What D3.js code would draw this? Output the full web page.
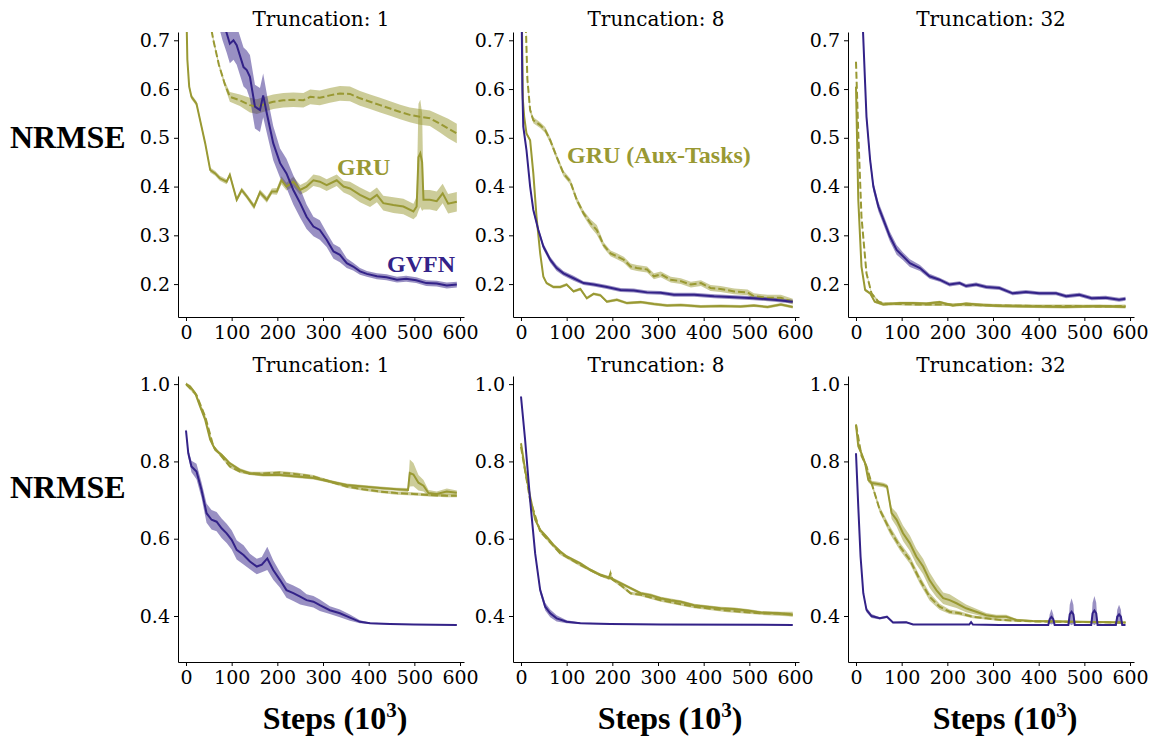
<!DOCTYPE html>
<html>
<head>
<meta charset="utf-8">
<script src="https://cdn.jsdelivr.net/npm/d3@7"></script>
<style>
  body { margin: 0; background: #fff; }
  .tick text { font-family: "DejaVu Serif", serif; font-size: 19px; fill: #000; }
  .tick line, .domain { stroke: #000; }
</style>
</head>
<body>
<div id="visualization"></div>
<script>
// each point: [step (10^3), mean NRMSE, half width of the shaded band]
const steps = [0, 100, 200, 300, 400, 500, 600];
const truncations = [1, 8, 32];
const topTicks = [0.2, 0.3, 0.4, 0.5, 0.6, 0.7];
const bottomTicks = [0.4, 0.6, 0.8, 1.0];

// ---- top row ----
const gvfnTop1 = [[60,0.80,0.03],[80,0.74,0.04],[89,0.715,0.04],[96,0.693,0.04],[104,0.70,0.04],[111,0.69,0.04],[126,0.645,0.04],[133,0.639,0.04],[140,0.625,0.045],[151,0.564,0.045],[162,0.557,0.045],[169,0.587,0.045],[177,0.55,0.04],[191,0.489,0.035],[206,0.448,0.03],[220,0.427,0.03],[235,0.393,0.03],[250,0.366,0.03],[264,0.338,0.025],[279,0.318,0.02],[293,0.311,0.02],[308,0.291,0.015],[323,0.267,0.015],[337,0.26,0.015],[352,0.243,0.01],[366,0.236,0.008],[381,0.226,0.007],[396,0.221,0.006],[418,0.216,0.006],[439,0.214,0.006],[462,0.209,0.006],[482,0.211,0.006],[504,0.208,0.006],[526,0.202,0.006],[549,0.201,0.006],[571,0.197,0.006],[593,0.199,0.006]];
const gruTop1 = [[0,0.80,0.005],[3,0.66,0.005],[7,0.605,0.005],[12,0.584,0.005],[23,0.57,0.005],[34,0.523,0.005],[42,0.489,0.005],[53,0.434,0.005],[64,0.427,0.005],[74,0.417,0.005],[89,0.41,0.005],[96,0.424,0.005],[111,0.373,0.005],[122,0.393,0.005],[133,0.38,0.005],[149,0.359,0.006],[162,0.388,0.006],[177,0.373,0.006],[188,0.39,0.006],[199,0.39,0.007],[209,0.413,0.008],[220,0.40,0.008],[235,0.41,0.01],[250,0.393,0.01],[264,0.40,0.01],[279,0.413,0.012],[293,0.41,0.012],[308,0.403,0.012],[330,0.413,0.012],[345,0.40,0.012],[359,0.396,0.014],[381,0.383,0.015],[403,0.373,0.015],[418,0.383,0.015],[432,0.366,0.015],[454,0.362,0.016],[476,0.359,0.016],[498,0.349,0.016],[505,0.359,0.02],[509,0.46,0.11],[513,0.468,0.11],[517,0.45,0.1],[520,0.373,0.02],[534,0.373,0.02],[549,0.37,0.02],[562,0.386,0.02],[574,0.365,0.02],[593,0.369,0.02]];
const auxTop1 = [[48,0.76,0.005],[60,0.70,0.005],[72,0.65,0.005],[85,0.61,0.006],[96,0.584,0.01],[118,0.577,0.012],[140,0.567,0.015],[155,0.564,0.015],[169,0.568,0.015],[191,0.574,0.015],[213,0.577,0.015],[235,0.578,0.015],[257,0.577,0.015],[272,0.584,0.015],[293,0.582,0.015],[315,0.587,0.015],[337,0.591,0.015],[359,0.59,0.015],[381,0.581,0.015],[403,0.574,0.015],[425,0.567,0.015],[447,0.56,0.015],[469,0.553,0.015],[490,0.547,0.015],[512,0.543,0.016],[534,0.54,0.016],[556,0.529,0.018],[574,0.519,0.02],[593,0.509,0.02]];

const gvfnTop8 = [[0,0.90,0.005],[3,0.60,0.005],[5,0.523,0.005],[12,0.475,0.005],[20,0.40,0.005],[27,0.352,0.005],[38,0.311,0.005],[49,0.277,0.006],[64,0.25,0.006],[78,0.233,0.006],[93,0.222,0.005],[115,0.212,0.005],[137,0.202,0.004],[159,0.199,0.004],[188,0.194,0.004],[218,0.188,0.004],[247,0.187,0.004],[276,0.183,0.004],[306,0.182,0.004],[335,0.178,0.004],[379,0.178,0.004],[423,0.175,0.004],[467,0.173,0.004],[510,0.171,0.004],[554,0.168,0.004],[595,0.164,0.004]];
const gruTop8 = [[0,0.90,0.003],[4,0.58,0.003],[7,0.543,0.003],[12,0.509,0.003],[20,0.495,0.003],[27,0.427,0.003],[34,0.338,0.003],[42,0.263,0.003],[49,0.215,0.003],[56,0.202,0.003],[71,0.194,0.003],[86,0.194,0.003],[100,0.199,0.003],[115,0.185,0.003],[130,0.19,0.003],[144,0.171,0.003],[159,0.18,0.003],[174,0.177,0.003],[188,0.164,0.003],[210,0.168,0.003],[232,0.161,0.003],[262,0.163,0.003],[291,0.159,0.003],[320,0.156,0.003],[350,0.157,0.003],[394,0.154,0.003],[437,0.155,0.003],[481,0.154,0.003],[510,0.156,0.003],[540,0.153,0.003],[569,0.158,0.003],[595,0.153,0.003]];
const auxTop8 = [[10,0.75,0.006],[14,0.62,0.006],[20,0.557,0.006],[27,0.536,0.006],[42,0.526,0.006],[53,0.516,0.006],[64,0.495,0.006],[78,0.461,0.006],[93,0.427,0.006],[108,0.41,0.006],[122,0.373,0.006],[137,0.345,0.006],[152,0.325,0.008],[166,0.311,0.01],[181,0.28,0.006],[196,0.263,0.006],[210,0.257,0.006],[225,0.25,0.006],[240,0.236,0.006],[254,0.233,0.006],[276,0.23,0.006],[291,0.216,0.006],[306,0.22,0.006],[328,0.209,0.006],[350,0.206,0.006],[372,0.199,0.006],[394,0.202,0.006],[415,0.192,0.006],[437,0.19,0.006],[467,0.185,0.006],[496,0.183,0.006],[510,0.175,0.006],[540,0.172,0.006],[569,0.172,0.006],[595,0.164,0.006]];

const gvfnTop32 = [[14,0.75,0.01],[20,0.611,0.01],[23,0.543,0.01],[31,0.454,0.01],[38,0.40,0.01],[49,0.359,0.01],[60,0.332,0.01],[74,0.298,0.01],[89,0.27,0.01],[103,0.257,0.008],[118,0.243,0.008],[140,0.233,0.006],[161,0.216,0.005],[183,0.209,0.004],[205,0.199,0.004],[227,0.202,0.004],[241,0.196,0.004],[263,0.199,0.004],[285,0.194,0.004],[314,0.192,0.004],[343,0.181,0.004],[372,0.184,0.004],[401,0.181,0.004],[438,0.181,0.004],[460,0.175,0.004],[489,0.178,0.004],[516,0.171,0.004],[547,0.172,0.004],[576,0.168,0.004],[590,0.17,0.004]];
const gruTop32 = [[0,0.605,0.003],[5,0.373,0.003],[12,0.236,0.003],[20,0.188,0.003],[31,0.181,0.003],[41,0.164,0.003],[60,0.158,0.003],[96,0.161,0.003],[125,0.161,0.003],[154,0.16,0.003],[183,0.163,0.003],[212,0.156,0.003],[241,0.16,0.003],[278,0.157,0.003],[314,0.155,0.003],[387,0.154,0.003],[460,0.153,0.003],[534,0.155,0.003],[590,0.153,0.003]];
const auxTop32 = [[0,0.656,0.003],[5,0.509,0.003],[12,0.338,0.003],[23,0.222,0.003],[34,0.181,0.003],[49,0.164,0.003],[60,0.16,0.003],[96,0.159,0.003],[140,0.158,0.003],[200,0.158,0.003],[260,0.157,0.003],[320,0.156,0.003],[400,0.155,0.003],[480,0.155,0.003],[540,0.154,0.003],[590,0.155,0.003]];

// ---- bottom row ----
const gvfnBot1 = [[0,0.88,0.005],[5,0.821,0.01],[12,0.787,0.015],[23,0.774,0.02],[34,0.726,0.02],[45,0.666,0.025],[56,0.649,0.025],[67,0.644,0.025],[78,0.627,0.025],[89,0.614,0.025],[100,0.597,0.025],[111,0.571,0.025],[126,0.558,0.025],[140,0.541,0.02],[155,0.528,0.02],[166,0.533,0.02],[178,0.549,0.03],[191,0.519,0.025],[206,0.493,0.02],[220,0.467,0.02],[235,0.459,0.02],[250,0.45,0.02],[264,0.441,0.015],[279,0.437,0.015],[293,0.428,0.015],[315,0.415,0.01],[337,0.407,0.01],[359,0.396,0.008],[381,0.385,0.004],[403,0.381,0.002],[447,0.379,0.001],[498,0.378,0.001],[593,0.377,0.001]];
const gruBot1 = [[0,1.0,0.004],[9,0.994,0.004],[20,0.977,0.004],[31,0.942,0.004],[42,0.908,0.004],[53,0.856,0.004],[64,0.83,0.004],[78,0.817,0.004],[96,0.795,0.004],[118,0.778,0.004],[140,0.769,0.004],[169,0.765,0.004],[206,0.765,0.004],[242,0.761,0.004],[279,0.757,0.004],[315,0.748,0.004],[352,0.739,0.004],[388,0.735,0.004],[425,0.731,0.004],[461,0.728,0.004],[486,0.726,0.005],[490,0.77,0.035],[498,0.766,0.03],[509,0.745,0.02],[520,0.737,0.015],[531,0.718,0.008],[549,0.716,0.006],[571,0.722,0.008],[593,0.719,0.006]];
const auxBot1 = [[0,1.0,0.004],[23,0.972,0.004],[42,0.916,0.004],[60,0.839,0.004],[78,0.813,0.004],[96,0.787,0.004],[118,0.774,0.004],[140,0.769,0.004],[169,0.769,0.004],[206,0.771,0.004],[242,0.767,0.004],[279,0.761,0.004],[315,0.748,0.004],[352,0.735,0.004],[388,0.728,0.004],[425,0.722,0.004],[461,0.718,0.004],[498,0.716,0.004],[534,0.713,0.004],[571,0.711,0.004],[593,0.711,0.004]];

const gvfnBot8 = [[0,0.968,0.004],[9,0.856,0.004],[20,0.70,0.004],[31,0.562,0.005],[42,0.467,0.008],[53,0.424,0.01],[64,0.407,0.01],[78,0.394,0.008],[100,0.385,0.004],[130,0.381,0.002],[196,0.379,0.001],[306,0.378,0.001],[595,0.377,0.001]];
const gruBot8 = [[0,0.847,0.004],[9,0.778,0.004],[20,0.709,0.004],[31,0.649,0.004],[42,0.623,0.004],[56,0.605,0.004],[71,0.584,0.004],[86,0.567,0.004],[100,0.554,0.004],[115,0.545,0.004],[130,0.536,0.004],[152,0.519,0.004],[174,0.506,0.004],[196,0.498,0.004],[218,0.485,0.004],[240,0.472,0.004],[262,0.459,0.004],[284,0.454,0.004],[306,0.446,0.004],[328,0.441,0.004],[350,0.437,0.004],[379,0.428,0.004],[408,0.424,0.004],[437,0.42,0.004],[467,0.418,0.004],[496,0.414,0.004],[525,0.409,0.004],[562,0.407,0.004],[595,0.403,0.004]];
const auxBot8 = [[0,0.838,0.004],[20,0.7,0.004],[42,0.619,0.004],[86,0.562,0.004],[130,0.532,0.004],[174,0.506,0.004],[192,0.498,0.004],[196,0.51,0.012],[200,0.495,0.004],[218,0.48,0.004],[240,0.459,0.004],[262,0.455,0.004],[306,0.441,0.004],[379,0.424,0.004],[452,0.414,0.004],[525,0.407,0.004],[595,0.405,0.006]];

const gvfnBot32 = [[0,0.821,0.003],[5,0.683,0.003],[10,0.554,0.003],[16,0.459,0.004],[23,0.416,0.006],[34,0.40,0.005],[52,0.394,0.003],[68,0.398,0.003],[81,0.383,0.002],[110,0.384,0.002],[125,0.378,0.001],[169,0.378,0.001],[248,0.378,0.001],[252,0.384,0.002],[256,0.378,0.001],[314,0.377,0.001],[421,0.377,0.001],[424,0.392,0.012],[428,0.398,0.02],[432,0.392,0.012],[435,0.377,0.001],[465,0.377,0.001],[468,0.404,0.025],[472,0.411,0.035],[476,0.404,0.025],[479,0.377,0.001],[515,0.377,0.001],[518,0.407,0.027],[522,0.414,0.038],[526,0.407,0.027],[529,0.377,0.001],[569,0.377,0.001],[572,0.398,0.018],[576,0.404,0.025],[580,0.398,0.018],[583,0.377,0.001],[590,0.377,0.001]];
const gruBot32 = [[0,0.895,0.004],[5,0.839,0.005],[12,0.821,0.006],[20,0.795,0.006],[27,0.752,0.006],[34,0.744,0.006],[45,0.742,0.006],[60,0.739,0.006],[68,0.735,0.006],[78,0.666,0.015],[89,0.649,0.018],[103,0.614,0.02],[118,0.588,0.02],[132,0.554,0.02],[147,0.528,0.02],[161,0.493,0.02],[176,0.467,0.018],[191,0.446,0.015],[205,0.441,0.015],[220,0.433,0.012],[241,0.42,0.01],[263,0.411,0.008],[285,0.402,0.006],[307,0.398,0.005],[329,0.398,0.005],[351,0.39,0.003],[387,0.387,0.002],[460,0.386,0.002],[590,0.383,0.002]];
const auxBot32 = [[0,0.895,0.004],[12,0.815,0.005],[23,0.787,0.006],[34,0.744,0.006],[52,0.675,0.008],[74,0.623,0.01],[96,0.58,0.01],[118,0.545,0.01],[140,0.493,0.01],[161,0.45,0.01],[183,0.424,0.008],[205,0.411,0.006],[227,0.407,0.005],[256,0.398,0.004],[285,0.394,0.003],[314,0.39,0.003],[387,0.386,0.002],[590,0.383,0.002]];

const gvfnColor = "#332288", gruColor = "#999933";

const rows = [
    { top: 32, bottom: 317, domain: [0.1325, 0.717], ticks: topTicks,
      series: [[gvfnTop1, gruTop1, auxTop1], [gvfnTop8, gruTop8, auxTop8], [gvfnTop32, gruTop32, auxTop32]],
      titleY: 26, ylabelY: 148 },
    { top: 376, bottom: 662, domain: [0.281, 1.021], ticks: bottomTicks,
      series: [[gvfnBot1, gruBot1, auxBot1], [gvfnBot8, gruBot8, auxBot8], [gvfnBot32, gruBot32, auxBot32]],
      titleY: 372, ylabelY: 498 }
];
const lefts = [178, 513, 848], plotW = 286;

const svg = d3.select("#visualization").append("svg")
    .attr("width", 1156)
    .attr("height", 738);

rows.forEach((row, ri) => {
    const y = d3.scaleLinear().domain(row.domain).range([row.bottom, row.top]);
    lefts.forEach((left, ci) => {
        const x = d3.scaleLinear().domain([-17.5, 608.7]).range([left, left + plotW]);
        const g = svg.append("g");
        const clipId = "clip" + ri + ci;
        g.append("clipPath").attr("id", clipId).append("rect")
            .attr("x", left).attr("y", row.top).attr("width", plotW).attr("height", row.bottom - row.top);
        const plot = g.append("g").attr("clip-path", "url(#" + clipId + ")");

        const [gvfn, gru, aux] = row.series[ci];
        const styles = [
            { data: aux, color: gruColor, dash: "7,3" },
            { data: gru, color: gruColor, dash: null },
            { data: gvfn, color: gvfnColor, dash: null }
        ];
        styles.forEach(s => {
            const area = d3.area()
                .x(d => x(d[0]))
                .y0(d => y(d[1] - d[2]))
                .y1(d => y(d[1] + d[2]));
            plot.append("path").datum(s.data)
                .attr("fill", s.color).attr("fill-opacity", 0.5)
                .attr("d", area);
        });
        styles.forEach(s => {
            const line = d3.line().x(d => x(d[0])).y(d => y(d[1]));
            plot.append("path").datum(s.data)
                .attr("fill", "none").attr("stroke", s.color).attr("stroke-width", 2)
                .attr("stroke-dasharray", s.dash)
                .attr("d", line);
        });

        g.append("g").attr("transform", "translate(0," + row.bottom + ")")
            .call(d3.axisBottom(x).tickValues(steps).tickSize(4).tickPadding(5).tickSizeOuter(0));
        g.append("g").attr("transform", "translate(" + left + ",0)")
            .call(d3.axisLeft(y).tickValues(row.ticks).tickFormat(d3.format(".1f")).tickSize(4).tickPadding(4).tickSizeOuter(0));

        g.append("text")
            .attr("x", left + plotW / 2)
            .attr("y", row.titleY)
            .attr("text-anchor", "middle")
            .style("font-family", "DejaVu Serif")
            .style("font-size", "20px")
            .text("Truncation: " + truncations[ci]);

        if (ri === 1) {
            const lab = g.append("text")
                .attr("x", left + plotW / 2 + 14)
                .attr("y", 729)
                .attr("text-anchor", "middle")
                .style("font-family", "Liberation Serif")
                .style("font-weight", "bold")
                .style("font-size", "32px");
            lab.append("tspan").text("Steps (10");
            lab.append("tspan").attr("dy", -12).style("font-size", "21px").text("3");
            lab.append("tspan").attr("dy", 12).text(")");
        }
    });

    svg.append("text")
        .attr("x", 10)
        .attr("y", row.ylabelY)
        .style("font-family", "Liberation Serif")
        .style("font-weight", "bold")
        .style("font-size", "32px")
        .text("NRMSE");
});

// curve labels
const labels = [
    { text: "GRU", x: 337, y: 175, color: gruColor },
    { text: "GVFN", x: 387, y: 272, color: gvfnColor },
    { text: "GRU (Aux-Tasks)", x: 567, y: 163, color: gruColor }
];
labels.forEach(l => {
    svg.append("text")
        .attr("x", l.x).attr("y", l.y)
        .style("font-family", "Liberation Serif")
        .style("font-weight", "bold")
        .style("font-size", "24px")
        .style("fill", l.color)
        .text(l.text);
});
</script>
</body>
</html>
